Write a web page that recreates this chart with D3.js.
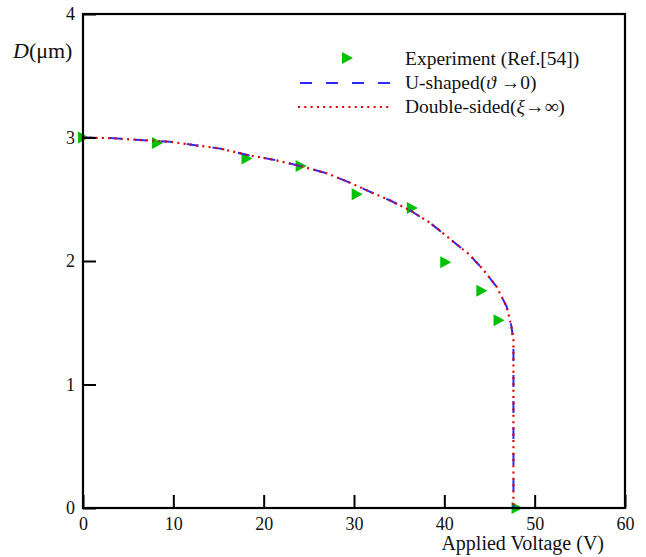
<!DOCTYPE html>
<html>
<head>
<meta charset="utf-8">
<script src="https://cdn.jsdelivr.net/npm/d3@7"></script>
<style>
  html, body { margin: 0; padding: 0; background: #fff; }
  svg { display: block; }
  svg text { font-family: 'Liberation Serif', 'Times New Roman', 'DejaVu Serif', serif !important; fill: #111; }
</style>
</head>
<body>
<svg id="chart" width="646" height="557"></svg>
<script>
// ---- data ----
const xTicks = [0, 10, 20, 30, 40, 50, 60];
const yTicks = [0, 1, 2, 3, 4];

const expV = [0, 8.2, 18.1, 24.1, 30.3, 36.4, 40.1, 44.1, 46.0, 48.0];
const expD = [3.00, 2.955, 2.83, 2.77, 2.54, 2.43, 1.99, 1.76, 1.52, 0.00];

const uV = [0, 3, 6.3, 9.6, 12.2, 15.2, 18.1, 21.1, 24.0, 27.0, 29.7, 31.8, 34.0, 36.2, 38.4, 40.6, 42.8, 44.3, 45.8, 46.9, 47.4, 47.65, 47.65];
const uD = [3.00, 2.995, 2.98, 2.966, 2.94, 2.91, 2.86, 2.82, 2.77, 2.71, 2.63, 2.56, 2.49, 2.41, 2.31, 2.18, 2.05, 1.93, 1.79, 1.63, 1.48, 1.36, 0];

const dsV = [0, 3, 6.3, 9.6, 12.2, 15.2, 18.1, 21.1, 24.0, 27.0, 29.7, 31.8, 34.0, 36.2, 38.4, 40.6, 42.8, 44.3, 45.8, 46.9, 47.4, 47.65, 47.65];
const dsD = [3.00, 2.995, 2.98, 2.966, 2.94, 2.91, 2.86, 2.82, 2.77, 2.71, 2.63, 2.56, 2.49, 2.41, 2.31, 2.18, 2.05, 1.93, 1.79, 1.63, 1.48, 1.36, 0];

const legendLabels = ["Experiment (Ref.[54])", "U-shaped", "Double-sided"];

// ---- layout ----
const svg = d3.select("#chart");
const mLeft = 83, mRight = 625, mTop = 14, mBottom = 508;
const FONT = "'Liberation Serif', 'Times New Roman', serif";

const x = d3.scaleLinear().domain([0, 60]).range([mLeft, mRight]);
const y = d3.scaleLinear().domain([0, 4]).range([mBottom, mTop]);

const green = "#00c000", blue = "#2b2bff", red = "#e00000";

const tri = d3.symbol().type({
  draw(ctx) { ctx.moveTo(-5, -6); ctx.lineTo(6, 0); ctx.lineTo(-5, 6); ctx.closePath(); }
});

// experiment markers
svg.append("g").selectAll("path").data(expV.map((v, i) => [v, expD[i]])).join("path")
  .attr("d", tri)
  .attr("transform", d => `translate(${x(d[0])},${y(d[1])})`)
  .attr("fill", green);

const line = d3.line().x(d => x(d[0])).y(d => y(d[1])).curve(d3.curveLinear);

svg.append("path")
  .datum(uV.map((v, i) => [v, uD[i]]))
  .attr("d", line)
  .attr("fill", "none").attr("stroke", blue).attr("stroke-width", 2)
  .attr("stroke-dasharray", "12,14");

svg.append("path")
  .datum(dsV.map((v, i) => [v, dsD[i]]))
  .attr("d", line)
  .attr("fill", "none").attr("stroke", red).attr("stroke-width", 2.2)
  .attr("stroke-dasharray", "2,4.3");

// axes
const xAxis = svg.append("g").attr("transform", `translate(0,${mBottom})`)
  .call(d3.axisBottom(x).tickValues(xTicks).tickFormat(d3.format("d"))
    .tickSizeInner(-13).tickSizeOuter(0).tickPadding(9));
xAxis.attr("font-family", FONT);
xAxis.select(".domain").remove();
xAxis.selectAll("line").attr("stroke", "#000").attr("stroke-width", 2);
xAxis.selectAll("text").attr("font-size", 18).attr("fill", "#111");

const yAxis = svg.append("g").attr("transform", `translate(${mLeft},0)`)
  .call(d3.axisLeft(y).tickValues(yTicks).tickFormat(d3.format("d"))
    .tickSizeInner(-13).tickSizeOuter(0).tickPadding(8));
yAxis.attr("font-family", FONT);
yAxis.select(".domain").remove();
yAxis.selectAll("line").attr("stroke", "#000").attr("stroke-width", 2);
yAxis.selectAll("text").attr("font-size", 18).attr("fill", "#111");

// frame
svg.append("rect")
  .attr("x", mLeft).attr("y", mTop).attr("width", mRight - mLeft).attr("height", mBottom - mTop)
  .attr("fill", "none").attr("stroke", "#000").attr("stroke-width", 2.2);

// axis titles
svg.append("text").attr("x", 604).attr("y", 550).attr("text-anchor", "end")
  .attr("font-size", 20).text("Applied Voltage (V)");

const yl = svg.append("text").attr("x", 13).attr("y", 57.5).attr("font-size", 22);
yl.append("tspan").attr("font-style", "italic").text("D");
yl.append("tspan").text("(μm)");

// legend
svg.append("path").attr("d", tri).attr("transform", "translate(347,58)").attr("fill", green);
svg.append("line").attr("x1", 300).attr("x2", 390).attr("y1", 83).attr("y2", 83)
  .attr("stroke", blue).attr("stroke-width", 2).attr("stroke-dasharray", "12,14");
svg.append("line").attr("x1", 298).attr("x2", 392).attr("y1", 107).attr("y2", 107)
  .attr("stroke", red).attr("stroke-width", 2.2).attr("stroke-dasharray", "2,4.3");

svg.append("text").attr("x", 405).attr("y", 65).attr("font-size", 19.5).text(legendLabels[0]);
const l2 = svg.append("text").attr("x", 405).attr("y", 88.5).attr("font-size", 19.5);
l2.append("tspan").text(legendLabels[1] + "(");
l2.append("tspan").attr("font-style", "italic").text("ϑ");
l2.append("tspan").text(" →0)");
const l3 = svg.append("text").attr("x", 405).attr("y", 112.5).attr("font-size", 19.5);
l3.append("tspan").text(legendLabels[2] + "(");
l3.append("tspan").attr("font-style", "italic").text("ξ");
l3.append("tspan").text("→∞)");
</script>
</body>
</html>
